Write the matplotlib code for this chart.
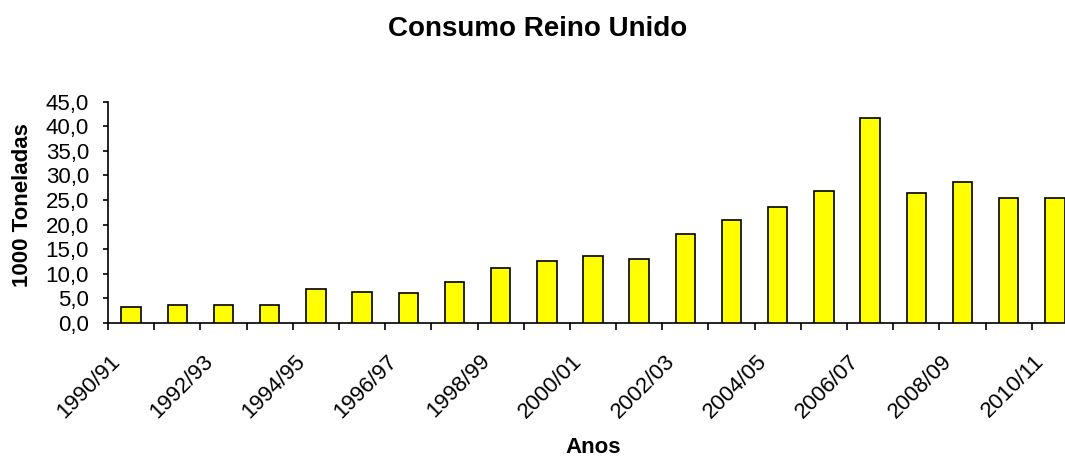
import matplotlib
matplotlib.use("Agg")
import matplotlib.pyplot as plt
from matplotlib.ticker import FuncFormatter
from matplotlib.transforms import ScaledTranslation

plt.rcParams['font.family'] = ['Liberation Sans', 'DejaVu Sans']

years = ["1990/91", "1991/92", "1992/93", "1993/94", "1994/95", "1995/96", "1996/97",
         "1997/98", "1998/99", "1999/00", "2000/01", "2001/02", "2002/03", "2003/04",
         "2004/05", "2005/06", "2006/07", "2007/08", "2008/09", "2009/10", "2010/11"]
consumo = [3.2, 3.6, 3.6, 3.6, 6.85, 6.4, 6.1, 8.3, 11.2, 12.7, 13.7, 13.0, 18.1, 21.0,
           23.5, 26.8, 41.7, 26.4, 28.7, 25.4, 25.4]
y_ticks = [0, 5, 10, 15, 20, 25, 30, 35, 40, 45]

fig = plt.figure(figsize=(10.65, 4.57), dpi=100)
ax = fig.add_axes([108/1065, 134/457, 970/1065, 221.3/457])

x = list(range(len(years)))
ax.bar(x, consumo, width=0.42, color='#FFFF00', edgecolor='black', linewidth=1.2, zorder=3)

ax.set_xlim(-0.5, len(years) - 0.5)
ax.set_ylim(0, 45)
ax.set_yticks(y_ticks)
ax.yaxis.set_major_formatter(FuncFormatter(lambda v, p: f"{v:.1f}".replace('.', ',')))
ax.tick_params(axis='y', direction='out', length=3.6, width=1.2, pad=10, labelsize=16)

# category boundary ticks
ax.set_xticks([i - 0.5 for i in range(len(years) + 1)], minor=True)
ax.tick_params(axis='x', which='minor', direction='out', length=5, width=1.2)
ax.set_xticks(x[::2])
ax.set_xticklabels(years[::2], rotation=45, ha='right', va='baseline', rotation_mode='anchor')
ax.tick_params(axis='x', which='major', length=0, pad=28, labelsize=16)
off = ScaledTranslation(-10/100, 0, fig.dpi_scale_trans)
for lab in ax.get_xticklabels():
    lab.set_transform(lab.get_transform() + off)

for s in ['top', 'right']:
    ax.spines[s].set_visible(False)
for s in ['left', 'bottom']:
    ax.spines[s].set_linewidth(1.2)
    ax.spines[s].set_color('black')

ax.set_ylabel("1000 Toneladas", fontsize=16, fontweight='bold')
ax.yaxis.set_label_coords(-0.0776, 0.533)
ax.set_xlabel("Anos", fontsize=16, fontweight='bold', va='top')
ax.xaxis.set_label_coords(0.5, -0.515)

fig.text(538/1065, 1 - 29/457, "Consumo Reino Unido", ha='center', va='center',
         fontsize=20, fontweight='bold')

fig.savefig("out.png", dpi=100)
